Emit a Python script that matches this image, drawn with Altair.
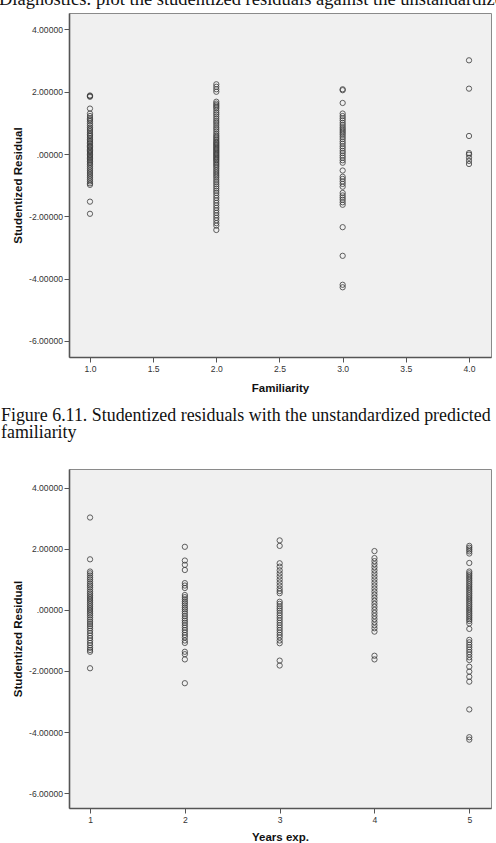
import altair as alt
import pandas as pd

# ---------------- text ----------------
top_line = "Diagnostics: plot the studentized residuals against the unstandardized predicted values"
caption_1 = "Figure 6.11. Studentized residuals with the unstandardized predicted"
caption_2 = "familiarity"

# ---------------- ticks ----------------
fam_x_ticks = [1.0, 1.5, 2.0, 2.5, 3.0, 3.5, 4.0]
years_x_ticks = [1, 2, 3, 4, 5]
resid_ticks = [-6, -4, -2, 0, 2, 4]

# ---------------- chart 1: Familiarity ----------------
fam_levels = [1.0, 2.0, 3.0, 4.0]
fam_1 = [1.88, 1.86, 1.84, 1.46, 1.30, 1.22, 1.15, 1.10, 1.05, 0.98, 0.92, 0.85, 0.80,
         0.74, 0.68, 0.62, 0.58, 0.52, 0.47, 0.42, 0.38, 0.33, 0.28, 0.24, 0.20, 0.15,
         0.11, 0.07, 0.03, -0.02, -0.06, -0.10, -0.15, -0.19, -0.24, -0.29, -0.34, -0.40,
         -0.46, -0.52, -0.58, -0.64, -0.70, -0.76, -0.82, -0.88, -0.94, -0.99, -1.53, -1.92]
fam_2 = [2.24, 2.16, 2.08, 2.00, 1.68, 1.62, 1.57, 1.52, 1.47, 1.40, 1.33, 1.27, 1.20,
         1.13, 1.06, 1.00, 0.93, 0.86, 0.80, 0.73, 0.66, 0.60, 0.55, 0.50, 0.45, 0.40,
         0.36, 0.32, 0.28, 0.24, 0.20, 0.16, 0.12, 0.08, 0.04, 0.00, -0.04, -0.08, -0.12,
         -0.16, -0.20, -0.25, -0.30, -0.35, -0.40, -0.46, -0.52, -0.58, -0.64, -0.70,
         -0.76, -0.83, -0.90, -0.97, -1.04, -1.11, -1.18, -1.25, -1.33, -1.41, -1.49,
         -1.57, -1.65, -1.73, -1.81, -1.89, -1.97, -2.05, -2.13, -2.22, -2.30, -2.44]
fam_3 = [2.08, 2.05, 1.64, 1.30, 1.22, 1.15, 1.08, 1.00, 0.93, 0.86, 0.80, 0.74, 0.68,
         0.62, 0.55, 0.48, 0.40, 0.33, 0.25, 0.18, 0.10, 0.03, -0.05, -0.12, -0.20, -0.28,
         -0.53, -0.73, -0.80, -0.88, -0.96, -1.05, -1.25, -1.33, -1.40, -1.47, -1.55,
         -1.63, -2.35, -3.27, -4.20, -4.28]
fam_4 = [3.01, 2.10, 0.58, 0.03, -0.02, -0.12, -0.22, -0.32]

# ---------------- chart 2: Years exp. ----------------
years_levels = [1, 2, 3, 4, 5]
yrs_1 = [3.03, 1.66, 1.26, 1.20, 1.13, 1.06, 1.00, 0.93, 0.86, 0.80, 0.74, 0.67, 0.60,
         0.54, 0.48, 0.42, 0.36, 0.30, 0.24, 0.18, 0.12, 0.06, 0.00, -0.06, -0.12, -0.18,
         -0.25, -0.32, -0.39, -0.46, -0.53, -0.60, -0.68, -0.76, -0.84, -0.92, -1.00,
         -1.08, -1.16, -1.24, -1.31, -1.37, -1.91]
yrs_2 = [2.07, 1.62, 1.48, 1.31, 0.88, 0.80, 0.72, 0.49, 0.42, 0.35, 0.28, 0.22, 0.15,
         0.08, 0.02, -0.05, -0.12, -0.20, -0.28, -0.35, -0.42, -0.50, -0.58, -0.66,
         -0.74, -0.82, -0.90, -1.00, -1.08, -1.37, -1.45, -1.62, -2.40]
yrs_3 = [2.28, 2.10, 1.53, 1.42, 1.30, 1.20, 1.10, 1.00, 0.90, 0.80, 0.70, 0.62, 0.55,
         0.27, 0.20, 0.12, 0.05, -0.02, -0.10, -0.18, -0.26, -0.34, -0.42, -0.50, -0.58,
         -0.66, -0.74, -0.82, -0.90, -1.00, -1.09, -1.66, -1.82]
yrs_4 = [1.93, 1.70, 1.60, 1.50, 1.40, 1.30, 1.20, 1.10, 1.00, 0.90, 0.80, 0.70, 0.60,
         0.50, 0.40, 0.30, 0.20, 0.10, 0.00, -0.10, -0.20, -0.30, -0.40, -0.50, -0.60,
         -0.71, -1.50, -1.62]
yrs_5 = [2.10, 2.04, 1.98, 1.92, 1.85, 1.54, 1.26, 1.20, 1.14, 1.08, 1.02, 0.96, 0.90,
         0.84, 0.78, 0.72, 0.66, 0.60, 0.54, 0.48, 0.42, 0.36, 0.30, 0.24, 0.18, 0.12,
         0.06, 0.00, -0.06, -0.12, -0.18, -0.24, -0.30, -0.36, -0.44, -0.62, -0.98, -1.06,
         -1.14, -1.22, -1.30, -1.38, -1.46, -1.55, -1.64, -1.86, -2.02, -2.19, -2.35,
         -3.26, -4.17, -4.25]

fam_groups = [fam_1, fam_2, fam_3, fam_4]
yrs_groups = [yrs_1, yrs_2, yrs_3, yrs_4, yrs_5]

df1 = pd.DataFrame(
    [{"Familiarity": lvl, "resid": v} for lvl, vals in zip(fam_levels, fam_groups) for v in vals]
)
df2 = pd.DataFrame(
    [{"Years": lvl, "resid": v} for lvl, vals in zip(years_levels, yrs_groups) for v in vals]
)

# ---------------- styles ----------------
LABEL_EXPR = "(datum.value < 0 ? '-' : '') + (datum.value == 0 ? '.00000' : format(abs(datum.value), '.5f'))"
POINT = dict(shape="circle", filled=False, size=28, color="#3a3a3a", strokeWidth=1, opacity=0.8)


def y_axis():
    return alt.Axis(values=resid_ticks, labelExpr=LABEL_EXPR, title="Studentized Residual",
                    titleX=-48, titleBaseline="alphabetic", titleAngle=270,
                    labelPadding=1.5, labelOverlap=False, labelFlush=False)


def x_axis(title, ticks, fmt, ty):
    return alt.Axis(values=ticks, format=fmt, title=title, titleY=ty,
                    titleBaseline="alphabetic", labelPadding=2, labelOverlap=False,
                    labelFlush=False)


def text_layer(s, x, y, size):
    return alt.Chart(pd.DataFrame({"t": [s]})).mark_text(
        align="left", baseline="alphabetic", font="Liberation Serif", fontSize=size,
        color="#111111"
    ).encode(text="t:N", x=alt.value(x), y=alt.value(y))


pts1 = alt.Chart(df1).mark_point(**POINT).encode(
    x=alt.X("Familiarity:Q", scale=alt.Scale(domain=[0.834, 4.174], nice=False, zero=False),
            axis=x_axis("Familiarity", fam_x_ticks, ".1f", 34)),
    y=alt.Y("resid:Q", scale=alt.Scale(domain=[-6.52, 4.53], nice=False, zero=False),
            axis=y_axis()),
)

c1 = alt.layer(
    pts1,
    text_layer(top_line, -70, -8.5, 18.5),
    text_layer(caption_1, -68, 407.5, 17.9),
    text_layer(caption_2, -68, 424.5, 17.9),
).properties(width=422, height=344)

pts2 = alt.Chart(df2).mark_point(**POINT).encode(
    x=alt.X("Years:Q", scale=alt.Scale(domain=[0.778, 5.229], nice=False, zero=False),
            axis=x_axis("Years exp.", years_x_ticks, "d", 32)),
    y=alt.Y("resid:Q", scale=alt.Scale(domain=[-6.49, 4.62], nice=False, zero=False),
            axis=y_axis()),
)
c2 = pts2.properties(width=422, height=339)

chart = alt.vconcat(c1, c2, spacing=112, bounds="flush").properties(
    padding={"left": 69, "top": 13, "right": 5, "bottom": 830},
    autosize=alt.AutoSizeParams(type="none"),
    background="white",
).configure_view(
    fill="#f0f0f0", stroke="#8a8a8a", strokeWidth=1
).configure_axis(
    grid=False,
    domainColor="#555555", domainWidth=1.6,
    tickColor="#555555", tickSize=5, tickWidth=1,
    labelFont="Liberation Sans", labelFontSize=8.6, labelColor="#333333",
    titleFont="Liberation Sans", titleFontSize=11.5, titleFontWeight="bold",
    titleColor="#111111",
)

chart.save("out.html", embed_options={"renderer": "svg", "actions": False})
